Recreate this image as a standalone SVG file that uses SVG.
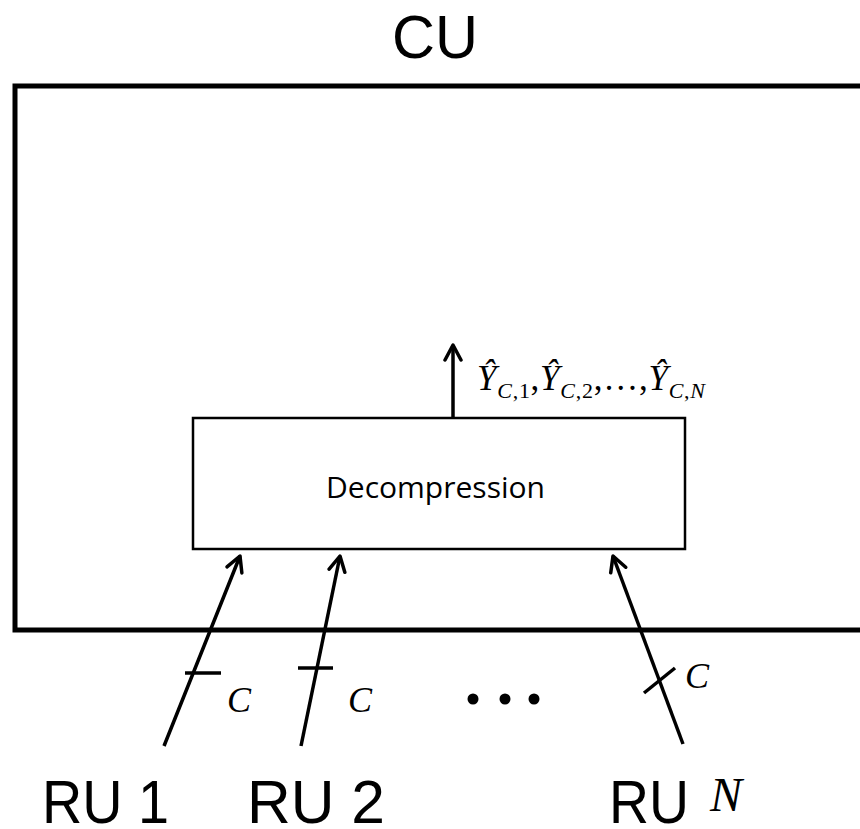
<svg xmlns="http://www.w3.org/2000/svg" width="860" height="829" viewBox="0 0 860 829">
<style>
.big{font-family:"Liberation Sans",Arial,sans-serif;font-size:62px;fill:#000}
.mi{font-family:"Liberation Serif","Times New Roman",serif;font-style:italic;fill:#000}
.mr{font-family:"Liberation Serif","Times New Roman",serif;fill:#000}
.lbl{font-family:"Open Sans","Noto Sans",sans-serif;font-size:30px;fill:#000}
.ln{stroke:#000;stroke-width:3.5;fill:none}
.ah{stroke:#000;stroke-width:3.5;fill:none;stroke-linecap:round;stroke-linejoin:round}
</style>
<defs>
<marker id="arr" viewBox="0 0 20 20" refX="18" refY="10" markerWidth="20" markerHeight="20" markerUnits="userSpaceOnUse" orient="auto">
<path d="M3,2 L18,10 L3,18" class="ah"/>
</marker>
</defs>
<g id="cu">
<path d="M862,86 L15,86 L15,630 L862,630" stroke="#000" stroke-width="5" fill="none"/>
<text class="big" x="435" y="58" text-anchor="middle" textLength="86" lengthAdjust="spacingAndGlyphs">CU</text>
</g>
<g id="decompression">
<rect x="193" y="418" width="492" height="131" fill="#fff" stroke="#000" stroke-width="2.5"/>
<text class="lbl" x="326" y="498" textLength="219" lengthAdjust="spacingAndGlyphs">Decompression</text>
</g>
<g id="ru1">
<text class="big" x="42" y="823" textLength="127" lengthAdjust="spacingAndGlyphs">RU 1</text>
</g>
<g id="ru2">
<text class="big" x="247" y="823" textLength="138" lengthAdjust="spacingAndGlyphs">RU 2</text>
</g>
<g id="ruN">
<text class="big" x="609" y="823" textLength="80" lengthAdjust="spacingAndGlyphs">RU</text>
<text class="mi" x="710" y="811" font-size="48">N</text>
</g>
<g id="connectors">
<line class="ln" x1="453" y1="418" x2="453" y2="345" marker-end="url(#arr)"/>
<line class="ln" x1="164" y1="746" x2="240" y2="556" marker-end="url(#arr)"/>
<line class="ln" x1="301" y1="746" x2="340" y2="556" marker-end="url(#arr)"/>
<line class="ln" x1="683" y1="744" x2="613" y2="556" marker-end="url(#arr)"/>
<line class="ln" x1="185" y1="673" x2="221" y2="673"/>
<line class="ln" x1="298" y1="668" x2="333" y2="668"/>
<line class="ln" x1="644" y1="693" x2="675" y2="668"/>
</g>
<g id="labels">
<text class="mi" x="227" y="712" font-size="36">C</text>
<text class="mi" x="348" y="712" font-size="36">C</text>
<text class="mi" x="685" y="688" font-size="36">C</text>
<circle cx="473" cy="699" r="5.5"/>
<circle cx="505" cy="699" r="5.5"/>
<circle cx="534" cy="699" r="5.5"/>
<text x="477" y="390" font-size="35" textLength="228" lengthAdjust="spacing"><tspan class="mi">Ŷ</tspan><tspan class="mi" font-size="22" dy="8">C</tspan><tspan class="mr" font-size="22">,1</tspan><tspan class="mr" dy="-8">,</tspan><tspan class="mi">Ŷ</tspan><tspan class="mi" font-size="22" dy="8">C</tspan><tspan class="mr" font-size="22">,2</tspan><tspan class="mr" dy="-8">,…,</tspan><tspan class="mi">Ŷ</tspan><tspan class="mi" font-size="22" dy="8">C</tspan><tspan class="mr" font-size="22">,</tspan><tspan class="mi" font-size="22">N</tspan></text>
</g>
</svg>
